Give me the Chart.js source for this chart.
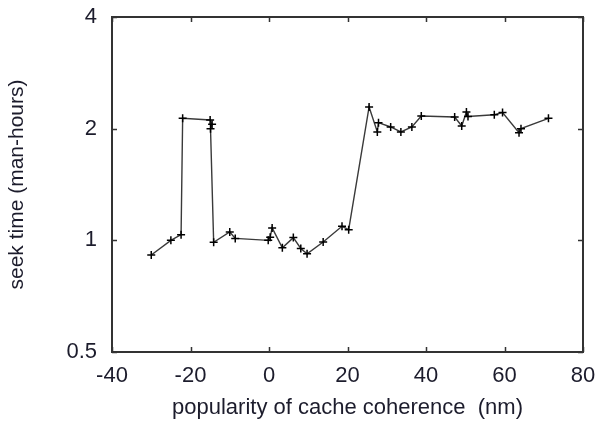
<!DOCTYPE html>
<html>
<head>
<meta charset="utf-8">
<script src="https://cdn.jsdelivr.net/npm/chart.js@4"></script>
<style>
  html, body { margin: 0; padding: 0; background: #fff; }
  #wrap { width: 600px; height: 421px; }
</style>
</head>
<body>
<div id="wrap"><canvas id="chart" width="600" height="421"></canvas></div>
<script>
// values
const popularity = [-30, -25, -22.4, -22, -15, -14.5, -14.9, -14.1, -10, -8.6, -0.2, 0.3, 0.8, 3.4, 6.2, 8.1, 9.7, 13.8, 18.6, 20.3,
    25.5, 27.6, 27.9, 31, 33.6, 36.4, 38.8, 47.3, 49.1, 50.3, 50.7, 57.4, 59.5, 63.7, 64.2, 71.2];
const seekTime = [0.913, 1.0, 1.036, 2.133, 2.111, 2.055, 2.0, 0.988, 1.053, 1.012, 1.0, 1.02, 1.08, 0.955, 1.017, 0.951, 0.92, 0.99, 1.091, 1.068,
    2.289, 1.96, 2.076, 2.021, 1.96, 2.021, 2.164, 2.15, 2.033, 2.218, 2.158, 2.18, 2.21, 1.951, 2.0, 2.133];
const xTicks = [-40, -20, 0, 20, 40, 60, 80];
const yTicks = [0.5, 1, 2, 4];

const textColor = "#1c1c2c";
const axisColor = "#333";

// box around the plot plus inward ticks on all four sides
const frame = {
    id: "frame",
    afterDraw(chart) {
        const { ctx, chartArea: a, scales } = chart;
        ctx.save();
        ctx.strokeStyle = axisColor;
        ctx.lineWidth = 2;
        ctx.strokeRect(a.left, a.top, a.right - a.left, a.bottom - a.top);
        ctx.lineWidth = 1.5;
        ctx.beginPath();
        scales.x.ticks.forEach(t => {
            const px = Math.round(scales.x.getPixelForValue(t.value)) + 0.5;
            ctx.moveTo(px, a.bottom); ctx.lineTo(px, a.bottom - 5);
            ctx.moveTo(px, a.top); ctx.lineTo(px, a.top + 5);
        });
        scales.y.ticks.forEach(t => {
            const py = Math.round(scales.y.getPixelForValue(t.value)) + 0.5;
            ctx.moveTo(a.left, py); ctx.lineTo(a.left + 5, py);
            ctx.moveTo(a.right, py); ctx.lineTo(a.right - 5, py);
        });
        ctx.stroke();
        ctx.restore();
    }
};

const ctx = document.getElementById("chart").getContext("2d");
new Chart(ctx, {
    type: "line",
    data: {
        datasets: [{
            data: popularity.map((x, i) => ({ x: x, y: seekTime[i] })),
            borderColor: "#3a3a3a",
            borderWidth: 1.4,
            pointStyle: "cross",
            pointRadius: 4,
            pointBorderColor: "#000",
            pointBorderWidth: 1.5,
            fill: false,
            tension: 0
        }]
    },
    options: {
        responsive: false,
        animation: false,
        layout: { padding: { top: 17, right: 17, left: 0, bottom: 0 } },
        plugins: { legend: { display: false }, tooltip: { enabled: false } },
        scales: {
            x: {
                type: "linear",
                min: -40, max: 80,
                afterBuildTicks: s => { s.ticks = xTicks.map(v => ({ value: v })); },
                afterFit: s => { s.height = 69; s.paddingLeft = 0; s.paddingRight = 0; },
                grid: { display: false, drawTicks: false },
                border: { display: false },
                ticks: { color: textColor, padding: 11, font: { family: "Liberation Sans, Arial", size: 22 } },
                title: {
                    display: true,
                    text: "popularity of cache coherence  (nm)",
                    color: textColor,
                    padding: { top: 0, bottom: 0 },
                    font: { family: "Liberation Sans, Arial", size: 22 }
                }
            },
            y: {
                type: "logarithmic",
                min: 0.5, max: 4,
                afterBuildTicks: s => { s.ticks = yTicks.map(v => ({ value: v })); },
                afterFit: s => { s.width = 112; s.paddingTop = 0; s.paddingBottom = 0; },
                grid: { display: false, drawTicks: false },
                border: { display: false },
                ticks: {
                    color: textColor, padding: 15,
                    font: { family: "Liberation Sans, Arial", size: 22 },
                    callback: v => String(v)
                },
                title: {
                    display: true,
                    text: "seek time (man-hours)",
                    color: textColor,
                    padding: { top: 5, bottom: 0 },
                    font: { family: "Liberation Sans, Arial", size: 21 }
                }
            }
        }
    },
    plugins: [frame]
});
</script>
</body>
</html>
